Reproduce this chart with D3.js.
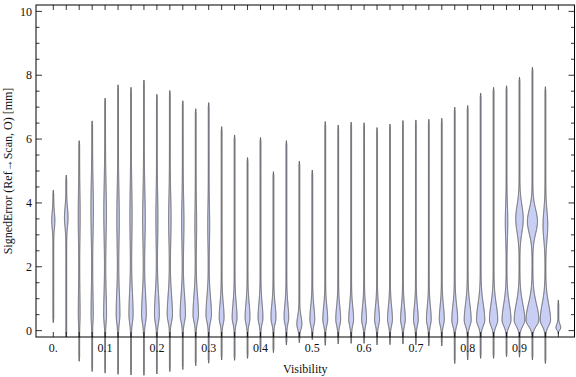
<!DOCTYPE html>
<html><head><meta charset="utf-8">
<script src="https://cdn.jsdelivr.net/npm/d3@7"></script>
<style>body{margin:0;background:#fff}</style>
</head><body>
<svg id="c" width="576" height="377"></svg>
<script>
// Category positions (Visibility bins)
const visibility = [0,0.025,0.05,0.075,0.1,0.125,0.15,0.175,0.2,0.225,0.25,0.275,0.3,0.325,0.35,0.375,0.4,0.425,0.45,0.475,0.5,0.525,0.55,0.575,0.6,0.625,0.65,0.675,0.7,0.725,0.75,0.775,0.8,0.825,0.85,0.875,0.9,0.925,0.95,0.975];
// Range of each distribution
const maxima = [4.4,4.87,5.95,6.57,7.28,7.70,7.62,7.85,7.40,7.52,7.20,6.95,7.14,6.39,6.13,5.42,6.05,4.98,5.95,5.31,5.03,6.55,6.44,6.53,6.51,6.36,6.47,6.58,6.60,6.62,6.65,7.00,7.05,7.44,7.62,7.67,7.94,8.25,7.64,0.96];
const minima = [0.25,-0.2,-0.96,-1.28,-1.33,-1.37,-1.39,-1.40,-1.36,-1.28,-1.22,-1.1,-1.02,-0.92,-0.93,-0.87,-0.66,-0.69,-0.45,-0.38,-0.28,-0.46,-0.42,-0.4,-0.4,-0.45,-0.44,-0.42,-0.45,-0.48,-0.48,-1.03,-0.92,-0.87,-0.87,-0.82,-0.83,-0.92,-1.03,-0.1];
// Lower mode (near zero) of each distribution: centre, spread below, spread above, relative density
const lowCenter = [0,0,0.5,0.5,0.5,0.5,0.5,0.5,0.5,0.5,0.5,0.5,0.5,0.4,0.4,0.4,0.4,0.4,0.4,0.2,0.35,0.35,0.35,0.35,0.35,0.35,0.35,0.35,0.35,0.35,0.35,0.33,0.33,0.33,0.33,0.33,0.33,0.33,0.33,0.1];
const lowSdDown = [0.2,0.2,0.25,0.25,0.25,0.25,0.25,0.25,0.25,0.22,0.22,0.22,0.22,0.18,0.18,0.18,0.18,0.18,0.18,0.15,0.18,0.18,0.18,0.18,0.18,0.18,0.18,0.18,0.18,0.18,0.18,0.18,0.18,0.18,0.18,0.18,0.18,0.18,0.18,0.08];
const lowSdUp = [0.5,0.5,0.7,0.7,0.7,0.7,0.7,0.65,0.65,0.6,0.6,0.6,0.55,0.45,0.45,0.45,0.45,0.42,0.42,0.25,0.4,0.4,0.4,0.4,0.4,0.4,0.4,0.4,0.4,0.4,0.42,0.45,0.48,0.5,0.5,0.5,0.5,0.5,0.5,0.1];
const lowDensity = [0,0,0.07,0.1,0.15,0.21,0.24,0.28,0.29,0.32,0.32,0.33,0.33,0.29,0.29,0.29,0.29,0.3,0.27,0.3,0.29,0.29,0.29,0.29,0.29,0.29,0.29,0.28,0.28,0.28,0.3,0.36,0.44,0.53,0.53,0.58,0.7,0.86,0.68,0.28];
// Upper mode (around 3.5) of each distribution: centre, spread, relative density
const upCenter = [3.45,3.55,3.6,3.8,3.7,3.5,3.6,3.5,3.5,3.5,3.4,3.3,3.3,3,3,3,3,3,3,3,3,3,3,3,3,3,3,3,3,3,3,3,3,3,3,3.4,3.5,3.42,3.3,0];
const upSd = [0.25,0.3,0.7,0.8,0.85,0.8,0.8,0.8,0.7,0.7,0.7,0.6,0.6,0.5,0.5,0.5,0.5,0.5,0.5,0.5,0.5,0.5,0.5,0.5,0.5,0.5,0.5,0.5,0.5,0.5,0.5,0.5,0.5,0.5,0.5,0.5,0.42,0.38,0.45,0.5];
const upDensity = [0.17,0.2,0.08,0.12,0.13,0.12,0.1,0.13,0.09,0.12,0.11,0.07,0.08,0,0,0,0,0,0,0,0,0,0,0,0,0,0,0,0,0,0,0,0,0,0,0.12,0.48,0.66,0.28,0];
// Axis ticks
const xTickValues = [0,0.1,0.2,0.3,0.4,0.5,0.6,0.7,0.8,0.9];
const xTickLabels = ["0.","0.1","0.2","0.3","0.4","0.5","0.6","0.7","0.8","0.9"];
const yTickValues = [0,2,4,6,8,10];
const yTickLabels = ["0","2","4","6","8","10"];

const svg = d3.select("#c");
const L = 36, R = 574.5, T = 5, B = 337;
const x = d3.scaleLinear().domain([-0.0334, 1.0062]).range([L, R]);
const y = d3.scaleLinear().domain([-0.2, 10.2]).range([B, T]);
const w = d3.scaleLinear().domain([0, 1]).range([0, 7]);
const baseDensity = 0.06;

function density(i, v) {
  const taper = Math.max(0, Math.min(1, (v - minima[i]) / 0.4, (maxima[i] - v) / 0.4));
  const c = lowCenter[i];
  const s = v < c ? lowSdDown[i] : lowSdUp[i];
  const lo = lowDensity[i] * Math.exp(-0.5 * ((v - c) / s) ** 2);
  const up = upDensity[i] * Math.exp(-0.5 * ((v - upCenter[i]) / upSd[i]) ** 2);
  return (baseDensity + lo + up) * Math.min(1, taper * 3);
}

const g = svg.append("g");
visibility.forEach((vis, i) => {
  const pts = [];
  const n = Math.ceil((maxima[i] - minima[i]) / 0.01);
  for (let k = 0; k <= n; k++) {
    const v = minima[i] + (maxima[i] - minima[i]) * k / n;
    pts.push({v, d: k === 0 || k === n ? 0 : density(i, v)});
  }
  const area = d3.area()
    .x0(p => x(vis) - w(p.d))
    .x1(p => x(vis) + w(p.d))
    .y(p => y(p.v));
  g.append("path").attr("d", area(pts))
    .attr("fill", "#c9cef4").attr("stroke", "#4d4d4d").attr("stroke-width", 0.9)
    .attr("stroke-linejoin", "round");
});

// Frame
const fr = svg.append("g").attr("stroke", "#000").attr("fill", "none");
fr.append("rect").attr("x", L).attr("y", T).attr("width", R - L).attr("height", B - T).attr("stroke-width", 1);
// x ticks at each category (bottom & top)
visibility.forEach(v => {
  fr.append("line").attr("x1", x(v)).attr("x2", x(v)).attr("y1", B).attr("y2", B - 5).attr("stroke-width", 0.8);
  fr.append("line").attr("x1", x(v)).attr("x2", x(v)).attr("y1", T).attr("y2", T + 5).attr("stroke-width", 0.8);
});
// y ticks
y.ticks(20).forEach(t => {
  const major = yTickValues.includes(t);
  const len = major ? 6 : 3.5;
  fr.append("line").attr("x1", L).attr("x2", L + len).attr("y1", y(t)).attr("y2", y(t)).attr("stroke-width", 0.8);
  fr.append("line").attr("x1", R).attr("x2", R - len).attr("y1", y(t)).attr("y2", y(t)).attr("stroke-width", 0.8);
});

const font = "'Liberation Serif','Times New Roman',serif";
const lab = svg.append("g").attr("font-family", font).attr("font-size", 12).attr("fill", "#111");
xTickValues.forEach((v, k) => {
  lab.append("text").attr("x", x(v)).attr("y", 352).attr("text-anchor", "middle").text(xTickLabels[k]);
});
yTickValues.forEach((v, k) => {
  lab.append("text").attr("x", 32).attr("y", y(v)).attr("dy", "0.35em").attr("text-anchor", "end").text(yTickLabels[k]);
});
lab.append("text").attr("x", (L + R) / 2).attr("y", 373).attr("text-anchor", "middle").text("Visibility");
lab.append("text").attr("transform", "translate(12,171) rotate(-90)").attr("text-anchor", "middle").text("SignedError (Ref\u2192Scan, O) [mm]");
</script>
</body></html>
